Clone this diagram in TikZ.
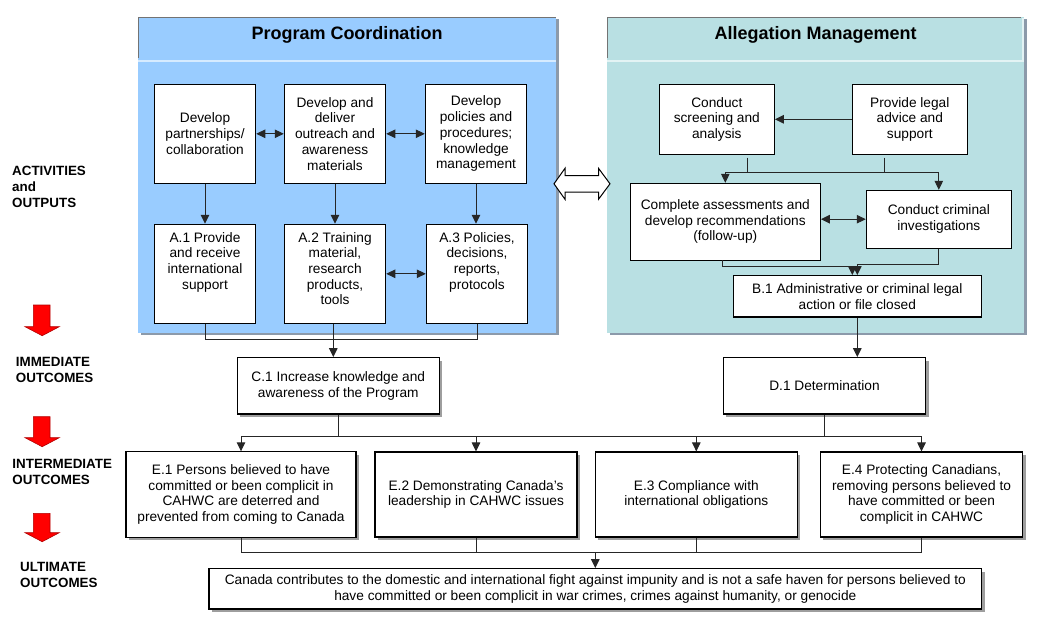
\documentclass[tikz,border=0pt]{standalone}
\usepackage{fontspec}
\setmainfont{Liberation Sans}
\usetikzlibrary{arrows.meta,shadows}
\newcommand\bxfont{\fontsize{13.7}{15.7}\selectfont}
\newcommand\labfont{\fontsize{13.4}{16}\selectfont\bfseries}
\newcommand\ttlfont{\fontsize{18}{20}\selectfont\bfseries}
\definecolor{pblue}{HTML}{99CCFF}
\definecolor{pteal}{HTML}{B9E0E3}
\definecolor{redarrow}{HTML}{FF0000}
\definecolor{pshadow}{HTML}{8C9AAA}
\begin{document}
\begin{tikzpicture}[x=1pt,y=-1pt,
  box/.style={draw=black, line width=1.1pt, fill=white, inner sep=0pt, align=center, font=\bxfont},
  sbox/.style={box, drop shadow={shadow xshift=3pt, shadow yshift=-3pt, fill=black!38, opacity=1}},
  txt/.style={inner sep=0pt, align=center, font=\bxfont},
  lab/.style={inner sep=0pt, align=left, font=\labfont, anchor=west},
  panel/.style={draw=none, inner sep=0pt, drop shadow={shadow xshift=2.5pt, shadow yshift=-2.5pt, fill=pshadow, opacity=1}},
  ttl/.style={inner sep=0pt, font=\ttlfont},
  line/.style={draw=black!85, line width=1pt},
  arr/.style={line, -{Triangle[length=9pt,width=8.5pt]}},
  darr/.style={line, {Triangle[length=9pt,width=8.5pt]}-{Triangle[length=9pt,width=8.5pt]}},
  redarr/.style={fill=redarrow, draw=red!70!black, line width=0.6pt},
  openarr/.style={fill=white, draw=black, line width=1pt, line join=miter}
]
\useasboundingbox (0,0) rectangle (1041,621);

% ---------- panels ----------
\node[panel, fill=pblue, minimum width=417.7pt, minimum height=316pt] (pL) at (347.15,174.7) {};
\node[panel, fill=pteal, minimum width=416.7pt, minimum height=316pt] (pR) at (815.65,174.7) {};
\draw[black!55, line width=1pt] (138.8,58) -- (138.8,17.2) -- (555.5,17.2);
\draw[black!55, line width=1pt] (607.8,58) -- (607.8,17.2) -- (1021,17.2);
\draw[white!60!pblue, line width=2pt] (138.3,60.7) -- (556,60.7);
\draw[white!60!pteal, line width=2pt] (607.3,60.7) -- (1024,60.7);
\draw[white!60!pteal, line width=2pt] (1022.8,18) -- (1022.8,60);
\node[ttl] (tL) at (347,35) {Program Coordination};
\node[ttl] (tR) at (815.6,35) {Allegation Management};

% open double arrow between panels
\draw[openarr] (554,183.8) -- (565,168.3) -- (565,175.7) -- (598.5,175.7) -- (598.5,168.3)
  -- (610,183.8) -- (598.5,199.3) -- (598.5,192) -- (565,192) -- (565,199.3) -- cycle;

% ---------- left panel boxes ----------
\node[box, minimum width=101.4pt, minimum height=99pt] (d1) at (205,133.8) {Develop\\partnerships/\\collaboration};
\node[box, minimum width=101.4pt, minimum height=99pt] (d2) at (335,133.8) {Develop and\\deliver\\outreach and\\awareness\\materials};
\node[box, minimum width=101.4pt, minimum height=99pt] (d3) at (476,133.8) {Develop\\policies and\\procedures;\\knowledge\\management};
\node[box, minimum width=101.4pt, minimum height=99pt] (a1) at (205,273.8) {};
\node[box, minimum width=101.4pt, minimum height=99pt] (a2) at (335,273.8) {};
\node[box, minimum width=101.4pt, minimum height=99pt] (a3) at (477,273.8) {};
\node[txt, anchor=north] (a1t) at (205,232) {A.1 Provide\\and receive\\international\\support};
\node[txt, anchor=north] (a2t) at (335,232) {A.2 Training\\material,\\research\\products,\\tools};
\node[txt, anchor=north] (a3t) at (477,232) {A.3 Policies,\\decisions,\\reports,\\protocols};

\draw[arr] (d1) -- (a1);
\draw[arr] (d2) -- (a2);
\draw[arr] (d3.south) -- (d3.south |- a3.north);
\draw[darr] (d1) -- (d2);
\draw[darr] (d2) -- (d3);
\draw[darr] (a2) -- (a3);

% ---------- right panel boxes ----------
\node[box, minimum width=115pt, minimum height=70pt] (cs) at (716.8,119.3) {Conduct\\screening and\\analysis};
\node[box, minimum width=115pt, minimum height=70pt] (pl) at (909.8,119.3) {Provide legal\\advice and\\support};
\node[box, minimum width=190pt, minimum height=76.7pt] (ca) at (725.3,221.7) {Complete assessments and\\develop recommendations\\(follow-up)};
\node[box, minimum width=145pt, minimum height=57.7pt] (ci) at (938.8,219.2) {Conduct criminal\\investigations};
\node[box, minimum width=248pt, minimum height=41.3pt] (b1) at (857.3,296.3) {B.1 Administrative or criminal legal\\action or file closed};

\draw[arr] (pl) -- (cs);
\coordinate (csb) at (747,157.7);
\coordinate (plb) at (884.7,157.7);
\coordinate (hb) at (0,172.3);
\draw[line] (csb) -- (csb |- hb);
\draw[line] (plb) -- (plb |- hb);
\draw[arr] (ca.north |- hb) -- (ca.north);
\draw[arr] (ca.north |- hb) -- (ci.north |- hb) -- (ci.north);
\draw[darr] (ca.east |- ci.west) -- (ci.west);
\coordinate (cab) at (722.7,260);
\draw[arr] (cab) -- ++(0,6) -| ([xshift=-5pt]b1.north);
\draw[arr] (ci.south) -- ++(0,16.3) -| (b1.north);

% ---------- outcomes ----------
\node[sbox, minimum width=202pt, minimum height=56.3pt] (c1) at (338.3,385.8) {C.1 Increase knowledge and\\awareness of the Program};
\node[sbox, minimum width=202.4pt, minimum height=56.3pt] (do1) at (824.5,385.8) {D.1 Determination};
\node[sbox, minimum width=230pt, minimum height=85.3pt] (e1) at (241,494.5) {E.1 Persons believed to have\\committed or been complicit in\\CAHWC are deterred and\\prevented from coming to Canada};
\node[sbox, minimum width=202pt, minimum height=85pt] (e2) at (476,494.5) {E.2 Demonstrating Canada’s\\leadership in CAHWC issues};
\node[sbox, minimum width=202pt, minimum height=85pt] (e3) at (696.3,494.5) {E.3 Compliance with\\international obligations};
\node[sbox, minimum width=202.4pt, minimum height=85pt] (e4) at (921.5,494.5) {E.4 Protecting Canadians,\\removing persons believed to\\have committed or been\\complicit in CAHWC};
\node[sbox, minimum width=772.7pt, minimum height=40.3pt] (fin) at (595.3,588.8) {Canada contributes to the domestic and international fight against impunity and is not a safe haven for persons believed to\\have committed or been complicit in war crimes, crimes against humanity, or genocide};

% left panel -> C.1
\coordinate (jl) at (333.3,339.3);
\draw[line] (a1.south) |- (a3.south |- jl) -- (a3.south);
\draw[line] (a2.south -| jl) -- (jl);
\draw[arr] (jl) -- (jl |- c1.north);
% B.1 -> D.1
\draw[arr] (b1.south) -- (b1.south |- do1.north);

% C.1 / D.1 -> E row
\coordinate (hb2) at (0,436.7);
\draw[line] (c1.south) -- (c1.south |- hb2);
\draw[line] (do1.south) -- (do1.south |- hb2);
\draw[line] (e1.north |- hb2) -- (e4.north |- hb2);
\draw[arr] (e1.north |- hb2) -- (e1.north);
\draw[arr] (e2.north |- hb2) -- (e2.north);
\draw[arr] (e3.north |- hb2) -- (e3.north);
\draw[arr] (e4.north |- hb2) -- (e4.north);

% E row -> final
\coordinate (hb3) at (0,552);
\draw[line] (e1.south) |- (e4.south |- hb3) -- (e4.south);
\draw[line] (e2.south) -- (e2.south |- hb3);
\draw[line] (e3.south) -- (e3.south |- hb3);
\draw[arr] (fin.north |- hb3) -- (fin.north);

% ---------- left labels ----------
\node[lab] (l1) at (12,186.5) {ACTIVITIES\\and\\OUTPUTS};
\node[lab] (l2) at (15.7,370.3) {IMMEDIATE\\OUTCOMES};
\node[lab] (l3) at (12.3,471.7) {INTERMEDIATE\\OUTCOMES};
\node[lab] (l4) at (20,574.7) {ULTIMATE\\OUTCOMES};

% red arrows
\draw[redarr] (33.3,305) -- (50,305) -- (50,326.7) -- (59.3,326.7) -- (42.2,335.7) -- (25,326.7) -- (33.3,326.7) -- cycle;
\draw[redarr] (33.3,416.7) -- (50,416.7) -- (50,437.7) -- (59.3,437.7) -- (42.2,446.7) -- (25,437.7) -- (33.3,437.7) -- cycle;
\draw[redarr] (33.3,513.3) -- (50,513.3) -- (50,532.7) -- (59.3,532.7) -- (42.2,541.7) -- (25,532.7) -- (33.3,532.7) -- cycle;
\end{tikzpicture}
\end{document}
